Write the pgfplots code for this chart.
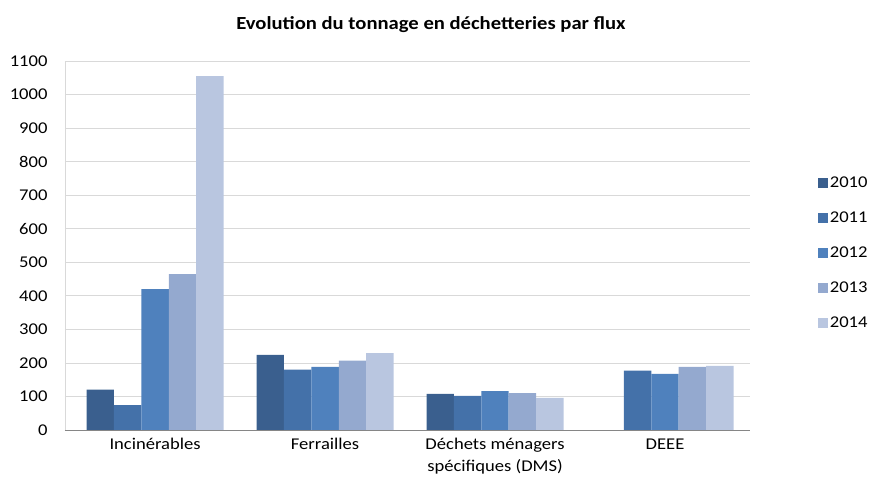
\documentclass[border=0pt]{standalone}
\usepackage{fontspec}
\setmainfont{Carlito}
\usepackage{pgfplots}
\pgfplotsset{compat=1.18}
\definecolor{c2010}{HTML}{3A5F8E}
\definecolor{c2011}{HTML}{4471A9}
\definecolor{c2012}{HTML}{4F81BD}
\definecolor{c2013}{HTML}{94A9CF}
\definecolor{c2014}{HTML}{B9C6E0}
\definecolor{gridc}{HTML}{D9D9D9}
\definecolor{axisc}{HTML}{868686}
\begin{document}
\begin{tikzpicture}
\useasboundingbox (0,0) rectangle (874bp,484bp);
\node[font=\fontsize{18.5}{22}\selectfont\bfseries, xscale=1.12] at (431bp,459bp) {Evolution du tonnage en déchetteries par flux};
\begin{axis}[
  at={(65bp,54bp)}, anchor=south west,
  scale only axis, width=685bp, height=369bp,
  xmin=-0.53, xmax=3.5, ymin=0, ymax=1100,
  ybar=0pt, bar width=27.4bp,
  xtick={0,1,2,3},
  xticklabels={Incinérables,Ferrailles,{Déchets ménagers\\spécifiques (DMS)},DEEE},
  xticklabel style={align=center, font=\fontsize{16.5}{22}\selectfont, xscale=1.13, anchor=north, yshift=-5bp},
  ytick={0,100,...,1100},
  yticklabel style={font=\fontsize{16.5}{18}\selectfont, xscale=1.13, xshift=-12bp},
  /pgf/number format/assume math mode=true,
  /pgf/number format/1000 sep={},
  major tick length=0pt,
  ymajorgrids, grid style={gridc, line width=0.8pt},
  axis x line*=bottom, axis y line*=left,
  x axis line style={axisc, line width=0.8pt, -},
  y axis line style={gridc, line width=0.8pt, -},
  legend style={at={(1.094,0.48)}, anchor=west, draw=none, fill=none,
    font=\fontsize{16.5}{18}\selectfont, row sep=19bp,
    legend cell align=left, nodes={xscale=1.13, inner xsep=2bp}},
  legend image code/.code={\fill[#1] (0bp,-5bp) rectangle (10bp,5bp);},
]
\addplot[fill=c2010, draw=none] coordinates {(0,120) (1,224) (2,108)};
\addplot[fill=c2011, draw=none] coordinates {(0,74) (1,180) (2,102) (3,177)};
\addplot[fill=c2012, draw=none] coordinates {(0,420) (1,188) (2,116) (3,167)};
\addplot[fill=c2013, draw=none] coordinates {(0,465) (1,207) (2,110) (3,188)};
\addplot[fill=c2014, draw=none] coordinates {(0,1055) (1,229) (2,96) (3,191)};
\legend{2010,2011,2012,2013,2014}
\end{axis}
\end{tikzpicture}
\end{document}
